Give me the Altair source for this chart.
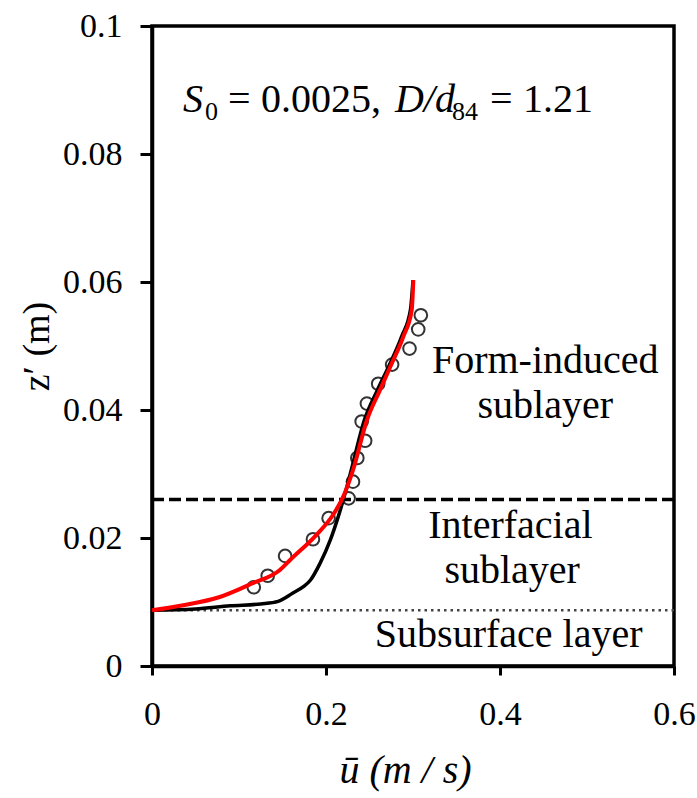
import altair as alt
import pandas as pd

# ---------------- data ----------------
obs_u = [0.117, 0.133, 0.153, 0.185, 0.203, 0.226, 0.231, 0.236, 0.245, 0.241,
         0.247, 0.260, 0.276, 0.296, 0.306, 0.309]
obs_z = [0.0123, 0.0141, 0.0172, 0.0198, 0.0231, 0.0262, 0.0288, 0.0325, 0.0352, 0.0382,
         0.0410, 0.0441, 0.0471, 0.0496, 0.0526, 0.0548]

red_u = [0.0, 0.036, 0.076, 0.115, 0.147, 0.159, 0.189, 0.208, 0.220, 0.231,
         0.247, 0.262, 0.274, 0.289, 0.2985, 0.3004]
red_z = [0.0087, 0.0095, 0.0107, 0.0129, 0.0150, 0.0166, 0.0205, 0.0236, 0.0265, 0.0306,
         0.0384, 0.0431, 0.0468, 0.0515, 0.0556, 0.0603]

blk_u = [0.0, 0.05, 0.09, 0.125, 0.145, 0.162, 0.174, 0.182, 0.193, 0.205,
         0.214, 0.220, 0.229, 0.244, 0.259, 0.272, 0.287, 0.297, 0.300]
blk_z = [0.0087, 0.0089, 0.0094, 0.0097, 0.0101, 0.0114, 0.0124, 0.0134, 0.0160, 0.0197,
         0.0233, 0.0260, 0.0306, 0.0384, 0.0431, 0.0468, 0.0515, 0.0556, 0.0603]

dashed_level = [0.026]    # form-induced / interfacial boundary
dotted_level = [0.0087]   # interfacial / subsurface boundary

x_ticks = [0, 0.2, 0.4, 0.6]
y_ticks = [0, 0.02, 0.04, 0.06, 0.08, 0.1]

ann_text = ["Form-induced", "sublayer", "Interfacial", "sublayer", "Subsurface layer"]
ann_u = [0.452, 0.452, 0.412, 0.414, 0.410]
ann_z = [0.0458, 0.0388, 0.0200, 0.0129, 0.0030]

FONT = "Liberation Serif"

obs = pd.DataFrame({"u": obs_u, "z": obs_z})
red = pd.DataFrame({"u": red_u, "z": red_z, "i": list(range(len(red_u)))})
blk = pd.DataFrame({"u": blk_u, "z": blk_z, "i": list(range(len(blk_u)))})
dash_df = pd.DataFrame({"z": dashed_level})
dot_df = pd.DataFrame({"z": dotted_level})
ann = pd.DataFrame({"t": ann_text, "u": ann_u, "z": ann_z})

xs = alt.Scale(domain=[0, 0.6], nice=False, zero=False)
ys = alt.Scale(domain=[0, 0.1], nice=False, zero=False)

x_axis = alt.Axis(values=x_ticks, format="~g", title="u\u0304 (m / s)",
                  labelFont=FONT, labelFontSize=34, labelColor="black",
                  tickSize=9, tickWidth=3, tickColor="black", labelPadding=22,
                  domainColor="black", domainWidth=3.5, grid=False,
                  titleFont=FONT, titleFontSize=40, titleFontStyle="italic",
                  titleFontWeight="normal", titleColor="black",
                  titleX=253, titleY=104, titleBaseline="middle", titleAlign="center",
                  labelFlush=False)
y_axis = alt.Axis(values=y_ticks, format="~g", title="z\u2032 (m)",
                  labelFont=FONT, labelFontSize=34, labelColor="black",
                  tickSize=12, tickWidth=3, tickColor="black", labelPadding=18,
                  domainColor="black", domainWidth=3.5, grid=False,
                  titleFont=FONT, titleFontSize=38, titleFontWeight="normal",
                  titleColor="black", titleAngle=-90,
                  titleX=-115, titleY=320, titleBaseline="middle", titleAlign="center",
                  labelFlush=False)


def X(field="u:Q"):
    return alt.X(field, scale=xs, axis=x_axis)


def Y(field="z:Q"):
    return alt.Y(field, scale=ys, axis=y_axis)


points = alt.Chart(obs).mark_point(shape="circle", filled=False, size=160,
                                   strokeWidth=2, color="#333333", opacity=1).encode(
    x=X(), y=Y(),
)

black_line = alt.Chart(blk).mark_line(color="black", strokeWidth=3.5,
                                      interpolate="monotone").encode(
    x=X(), y=Y(), order="i:Q",
)

red_line = alt.Chart(red).mark_line(color="#ff0000", strokeWidth=4,
                                    interpolate="monotone").encode(
    x=X(), y=Y(), order="i:Q",
)

dash_rule = alt.Chart(dash_df).mark_rule(color="black", strokeWidth=3.5,
                                         strokeDash=[12, 5]).encode(y=Y())
dot_rule = alt.Chart(dot_df).mark_rule(color="#444444", strokeWidth=2.5,
                                       strokeDash=[2.5, 4]).encode(y=Y())

ann_text_layer = alt.Chart(ann).mark_text(font=FONT, fontSize=40, color="black",
                                          align="center", baseline="alphabetic").encode(
    x=X(), y=Y(), text="t:N",
)

# in-plot parameter label: S0 = 0.0025, D/d84 = 1.21 (built from segments)
seg_df = pd.DataFrame({"u": [0.0356], "z": [0.0865]})


def seg(text, dx, size=40, style="normal", dy=0):
    return alt.Chart(seg_df).mark_text(
        text=text, font=FONT, fontSize=size, fontStyle=style, color="black",
        align="left", baseline="alphabetic", dx=dx, dy=dy,
    ).encode(x=X(), y=Y())


label_layers = [
    seg("S", 0, style="italic"),
    seg("0", 22, size=26, dy=8),
    seg("=", 45),
    seg("0.0025,", 78),
    seg("D/d", 212, style="italic"),
    seg("84", 269, size=26, dy=8),
    seg("=", 307),
    seg("1.21", 340),
]

chart = alt.layer(
    points, dash_rule, dot_rule, black_line, red_line, ann_text_layer, *label_layers
).properties(
    width=522, height=640,
    autosize=alt.AutoSizeParams(type="none"),
    padding={"left": 152, "top": 26, "right": 23, "bottom": 132},
    background="white",
).configure_view(
    stroke="black", strokeWidth=3.5,
)

chart.save("out.html", embed_options={"renderer": "svg", "actions": False})
